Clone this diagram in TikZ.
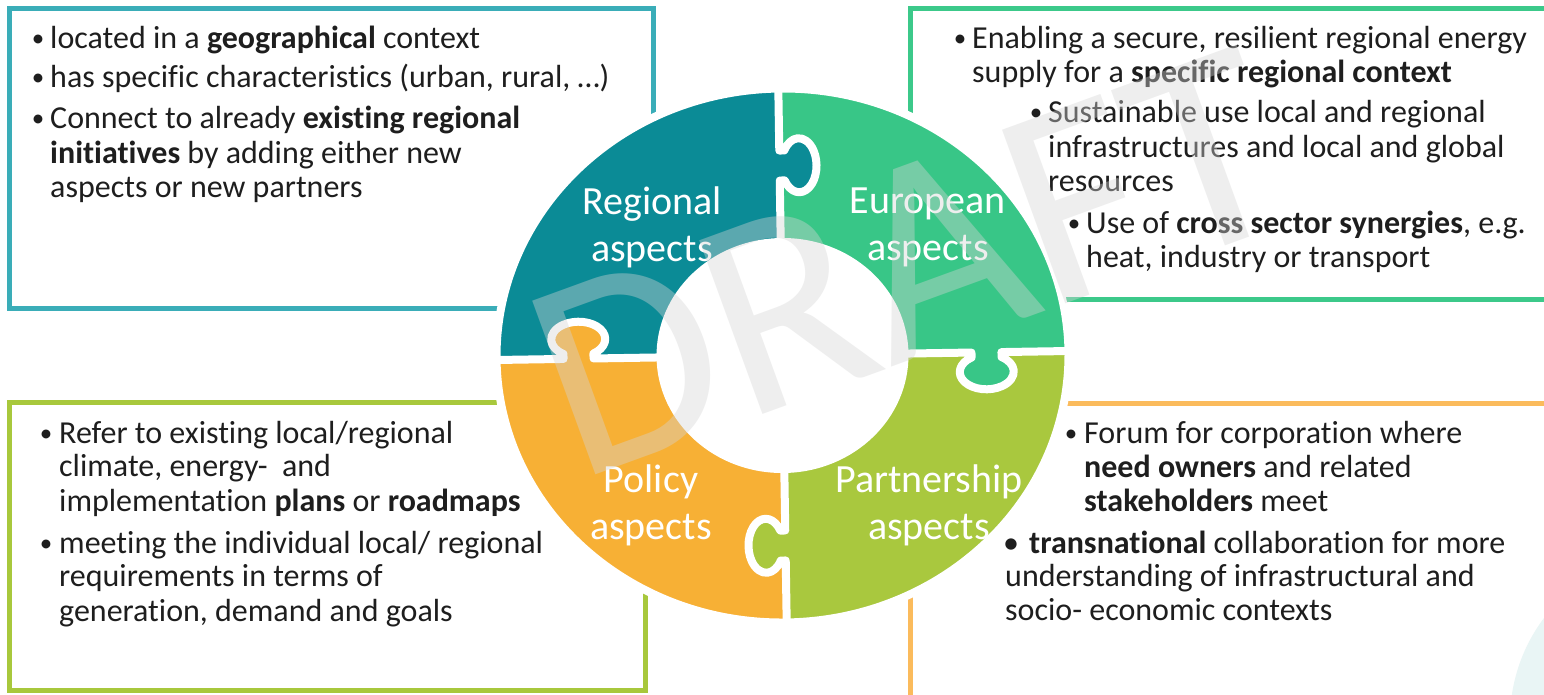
\documentclass[tikz,border=0pt]{standalone}
\usepackage{fontspec}
\setmainfont{Carlito}[Ligatures={NoCommon,NoContextual}]
\definecolor{tealpc}{HTML}{0B8B96}
\definecolor{greenpc}{HTML}{38C687}
\definecolor{orangepc}{HTML}{F7B035}
\definecolor{limepc}{HTML}{A9C83E}
\definecolor{tealbox}{HTML}{3AADB8}
\definecolor{greenbox}{HTML}{3CC98A}
\definecolor{limebox}{HTML}{A8C83C}
\definecolor{orangebox}{HTML}{FBBB5C}
\definecolor{txt}{HTML}{1E1E1E}
\definecolor{wmgray}{HTML}{D5D5D5}
\definecolor{faintteal}{HTML}{E9F5F5}
% canonical knob: split line along +y, knob at distance #1, protruding to +x
\newcommand\knobfill[1]{(-3,#1-15) -- (4.95,#1-15) arc[start angle=213.75,end angle=506.25,x radius=17.5,y radius=27] -- (-3,#1+15) -- cycle}
\newcommand\splitline[3]{(0,#1) -- (0,#2-15) -- (4.95,#2-15) arc[start angle=213.75,end angle=506.25,x radius=17.5,y radius=27] -- (0,#2+15) -- (0,#3)}
\begin{document}
\begin{tikzpicture}[x=1pt,y=1pt,
  boxline/.style={line width=5pt},
  body/.style={font=\fontsize{32}{35}\selectfont, text=txt, inner sep=0pt, anchor=base west},
  bul/.style={font=\fontsize{25}{30}\selectfont, text=txt, inner sep=0pt, anchor=base},
  ringlabel/.style={font=\fontsize{40}{47}\selectfont, text=white, align=center, inner sep=0pt},
  gapline/.style={draw=white, line width=8pt, line join=round},
]
\useasboundingbox (0,0) rectangle (1544,-694);
\clip (0,0) rectangle (1544,-694);
\fill[white] (0,0) rectangle (1544,-694);
% faint corner shape
\fill[faintteal] (1680,-720) circle[radius=170];

% boxes
\draw[boxline, tealbox] (9,-8) rectangle (653,-308);
\draw[boxline, greenbox] (910,-8) rectangle (1570,-299);
\draw[boxline, limebox] (9,-402) rectangle (645,-690);
\draw[boxline, orangebox] (910,-403) rectangle (1570,-720);

% puzzle ring
\begin{scope}[shift={(782.5,-355.5)}, rotate=0.9]
  \fill[tealpc] (-286,0) arc[start angle=180,end angle=90,x radius=286,y radius=267] -- (0,113.5) arc[start angle=90,end angle=180,x radius=122,y radius=113.5] -- cycle;
  \fill[greenpc] (286,0) arc[start angle=0,end angle=90,x radius=286,y radius=267] -- (0,113.5) arc[start angle=90,end angle=0,x radius=122,y radius=113.5] -- cycle;
  \fill[orangepc] (-286,0) arc[start angle=180,end angle=270,x radius=286,y radius=267] -- (0,-113.5) arc[start angle=270,end angle=180,x radius=122,y radius=113.5] -- cycle;
  \fill[limepc] (286,0) arc[start angle=0,end angle=-90,x radius=286,y radius=267] -- (0,-113.5) arc[start angle=-90,end angle=0,x radius=122,y radius=113.5] -- cycle;
  % knobs
  \begin{scope}[rotate=0]\fill[tealpc] \knobfill{190};\end{scope}
  \begin{scope}[rotate=-90]\fill[greenpc] \knobfill{204};\end{scope}
  \begin{scope}[rotate=180]\fill[limepc] \knobfill{190};\end{scope}
  \begin{scope}[rotate=90]\fill[orangepc] \knobfill{204};\end{scope}
  % gaps
  \draw[gapline] (0,0) ellipse[x radius=286, y radius=267];
  \draw[gapline] (0,0) ellipse[x radius=122, y radius=113.5];
  \begin{scope}[rotate=0]\draw[gapline] \splitline{100}{190}{280};\end{scope}
  \begin{scope}[rotate=-90]\draw[gapline] \splitline{110}{204}{300};\end{scope}
  \begin{scope}[rotate=180]\draw[gapline] \splitline{100}{190}{280};\end{scope}
  \begin{scope}[rotate=90]\draw[gapline] \splitline{110}{204}{300};\end{scope}
\end{scope}

% ring labels
\node[ringlabel] (lreg) at (652,-227) {Regional\\aspects};
\node[ringlabel] (leur) at (928,-227) {European\\aspects};
\node[ringlabel] (lpol) at (651,-505) {Policy\\aspects};
\node[ringlabel] (lpar) at (929,-505) {Partnership\\aspects};

% top-left box text
\node[bul] (tlb1) at (38,-46) {•};
\node[body] (tl1) at (50,-48) {located in a \textbf{geographical} context};
\node[bul] (tlb2) at (38,-85) {•};
\node[body] (tl2) at (50,-87) {has specific characteristics (urban, rural, …)};
\node[bul] (tlb3) at (38,-126) {•};
\node[body] (tl3) at (50,-128) {Connect to already \textbf{existing regional}};
\node[body] (tl4) at (50,-163) {\textbf{initiatives} by adding either new};
\node[body] (tl5) at (50,-197) {aspects or new partners};

% top-right box text
\node[bul] (trb1) at (960,-46) {•};
\node[body] (tr1) at (972,-48) {Enabling a secure, resilient regional energy};
\node[body] (tr2) at (972,-82) {supply for a \textbf{specific regional context}};
\node[bul] (trb2) at (1036,-120) {•};
\node[body] (tr3) at (1048,-122) {Sustainable use local and regional};
\node[body] (tr4) at (1048,-157) {infrastructures and local and global};
\node[body] (tr5) at (1048,-191) {resources};
\node[bul] (trb3) at (1074,-231) {•};
\node[body] (tr6) at (1086,-233) {Use of \textbf{cross sector synergies}, e.g.};
\node[body] (tr7) at (1086,-267) {heat, industry or transport};

% bottom-left box text
\node[bul] (blb1) at (46,-441) {•};
\node[body] (bl1) at (59,-443) {Refer to existing local/regional};
\node[body] (bl2) at (59,-476) {climate, energy-\ \ and};
\node[body] (bl3) at (59,-511) {implementation \textbf{plans} or \textbf{roadmaps}};
\node[bul] (blb2) at (46,-551) {•};
\node[body] (bl4) at (59,-553) {meeting the individual local/ regional};
\node[body] (bl5) at (59,-586) {requirements in terms of};
\node[body] (bl6) at (59,-621) {generation, demand and goals};

% bottom-right box text
\node[bul] (brb1) at (1071,-441) {•};
\node[body] (br1) at (1084,-443) {Forum for corporation where};
\node[body] (br2) at (1084,-477) {\textbf{need owners} and related};
\node[body] (br3) at (1084,-511) {\textbf{stakeholders} meet};
\node[bul, font=\fontsize{32}{35}\selectfont] (brb2) at (1011,-553) {•};
\node[body] (br4) at (1029,-553) {\textbf{transnational} collaboration for more};
\node[body] (br5) at (1005,-586) {understanding of infrastructural and};
\node[body] (br6) at (1005,-620) {socio- economic contexts};

% watermark
\node[font=\fontsize{288}{288}\selectfont, text=wmgray, text opacity=0.4, rotate=20, anchor=base west, inner sep=0pt] (wmark) at (577,-482) {DRAFT};
\end{tikzpicture}
\end{document}
